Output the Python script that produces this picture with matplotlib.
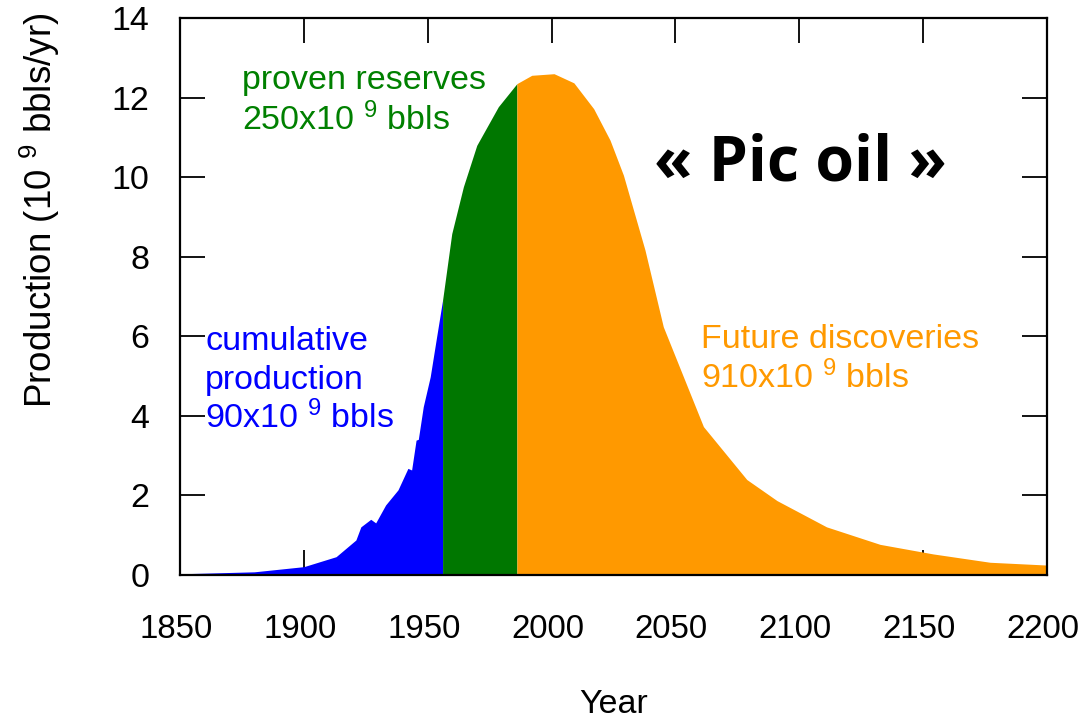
import matplotlib
matplotlib.use("Agg")
import matplotlib.pyplot as plt
import matplotlib.transforms as mtransforms
import numpy as np

plt.rcParams['font.family'] = ['Liberation Sans', 'DejaVu Sans']
plt.rcParams['mathtext.fontset'] = 'custom'
plt.rcParams['mathtext.rm'] = 'Liberation Sans'
plt.rcParams['mathtext.it'] = 'Liberation Sans'
plt.rcParams['mathtext.bf'] = 'Liberation Sans'

# Production curve (10^9 bbls/yr)
years = [1850, 1880, 1900, 1913, 1921, 1923, 1927, 1929, 1933, 1938, 1942, 1943.5,
         1945.3, 1946.2, 1948.2, 1951, 1953.6, 1956,
         1959.7, 1964.4, 1969.8, 1978.5, 1986,
         1992, 2001, 2009, 2017, 2023.6, 2029, 2037.7, 2045.1, 2061.3, 2078.8,
         2091, 2111, 2132.6, 2154, 2177, 2200]
production = [0.03, 0.08, 0.21, 0.46, 0.88, 1.21, 1.40, 1.31, 1.76, 2.14, 2.68, 2.64,
              3.39, 3.41, 4.23, 4.98, 5.99, 6.91,
              8.58, 9.76, 10.80, 11.77, 12.35,
              12.56, 12.60, 12.37, 11.72, 10.93, 10.05, 8.17, 6.24, 3.73, 2.40,
              1.87, 1.21, 0.77, 0.53, 0.32, 0.25]

split_years = [1956, 1986]
section_colors = ['#0000ff', '#007700', '#ff9900']

x_ticks = [1850, 1900, 1950, 2000, 2050, 2100, 2150, 2200]
y_ticks = [0, 2, 4, 6, 8, 10, 12, 14]

years_a = np.array(years)
prod_a = np.array(production)

fig = plt.figure(figsize=(10.8, 7.19), dpi=100)
ax = fig.add_axes([180/1080, 1-575/719, (1047-180)/1080, (575-18)/719])

bounds = [years_a[0]] + split_years + [years_a[-1]]
for i in range(3):
    m = (years_a >= bounds[i]) & (years_a <= bounds[i+1])
    ax.fill_between(years_a[m], 0, prod_a[m], color=section_colors[i], linewidth=0, zorder=2)

ax.set_xlim(1850, 2200)
ax.set_ylim(0, 14)
ax.set_xticks(x_ticks)
ax.set_yticks(y_ticks)
ax.tick_params(direction='in', length=18, width=1.3, top=True, right=True,
               labelsize=24.5, colors='black')
ax.tick_params(axis='y', pad=22)
ax.tick_params(axis='x', pad=28, labelsize=23.8)
offset = mtransforms.ScaledTranslation(-4/100, 0, fig.dpi_scale_trans)
for lbl in ax.get_xticklabels():
    lbl.set_transform(lbl.get_transform() + offset)
for s in ax.spines.values():
    s.set_linewidth(1.6)
    s.set_zorder(3)

ax.set_xlabel('Year', fontsize=24.5, labelpad=32)
fig.text(40/1080, 1-210/719, 'Production (10 $^{9}$ bbls/yr)', rotation=90,
         fontsize=26.5, ha='center', va='center')

fs = 24.5
ax.text(1860.1, 5.66, 'cumulative', color='#0000ff', fontsize=fs, va='baseline')
ax.text(1860.1, 4.68, 'production', color='#0000ff', fontsize=fs, va='baseline')
ax.text(1860.1, 3.70, '90x10 $^{9}$ bbls', color='#0000ff', fontsize=fs, va='baseline')

ax.text(1875.0, 12.21, 'proven reserves', color='#008000', fontsize=fs, va='baseline')
ax.text(1875.0, 11.18, '250x10 $^{9}$ bbls', color='#008000', fontsize=fs, va='baseline')

ax.text(2060.3, 5.70, 'Future discoveries', color='#ff9900', fontsize=fs, va='baseline')
ax.text(2060.3, 4.70, '910x10 $^{9}$ bbls', color='#ff9900', fontsize=fs, va='baseline')

ax.text(2100.3, 9.92, '« Pic oil »', fontsize=45, fontweight='bold',
        family=['Open Sans', 'DejaVu Sans'], ha='center', va='baseline', color='black')

fig.savefig('out.png', dpi=100)
